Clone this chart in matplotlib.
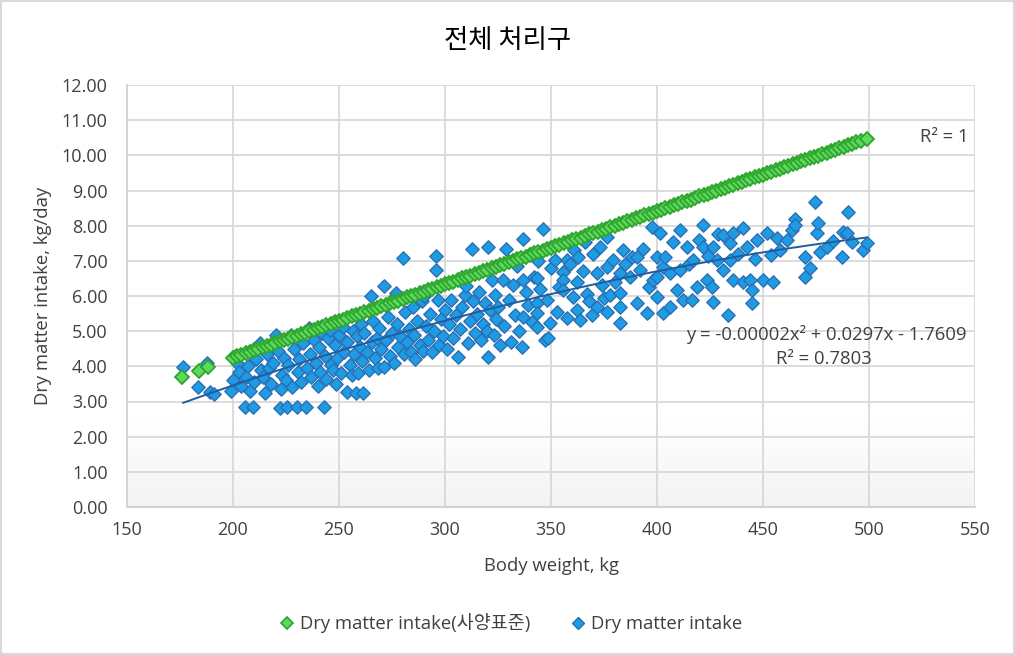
import numpy as np
import matplotlib
matplotlib.use("Agg")
import matplotlib.pyplot as plt
from matplotlib.colors import LinearSegmentedColormap
from matplotlib.lines import Line2D
from matplotlib.patches import Rectangle

plt.rcParams['font.family'] = ['Open Sans', 'Noto Sans CJK KR', 'DejaVu Sans']

#-------------- data --------------
title = '전체 처리구'
x_label = 'Body weight, kg'
y_label = 'Dry matter intake, kg/day'
std_name = 'Dry matter intake(사양표준)'
obs_name = 'Dry matter intake'
eq_text = 'y = -0.00002x² + 0.0297x - 1.7609'
r2_obs_text = 'R² = 0.7803'
r2_std_text = 'R² = 1'

# standard (feeding standard) intake
green_x = [176, 184, 188,
           200, 202, 204, 206, 208, 210, 212, 214, 216, 218, 220, 222, 224, 226, 228, 230,
           232, 234, 236, 238, 240, 242, 244, 246, 248, 250, 252, 254, 256, 258, 260, 262,
           264, 266, 268, 270, 272, 274, 276, 278, 280, 282, 284, 286, 288, 290, 292, 294,
           296, 298, 300, 302, 304, 306, 308, 310, 312, 314, 316, 318, 320, 322, 324, 326,
           328, 330, 332, 334, 336, 338, 340, 342, 344, 346, 348, 350, 352, 354, 356, 358,
           360, 362, 364, 366, 368, 370, 372, 374, 376, 378, 380, 382, 384, 386, 388, 390,
           392, 394, 396, 398, 400, 402, 404, 406, 408, 410, 412, 414, 416, 418, 420, 422,
           424, 426, 428, 430, 432, 434, 436, 438, 440, 442, 444, 446, 448, 450, 452, 454,
           456, 458, 460, 462, 464, 466, 468, 470, 472, 474, 476, 478, 480, 482, 484, 486,
           488, 490, 492, 494, 496, 499]
green_y = [3.70, 3.88, 3.97,
           4.25, 4.29, 4.33, 4.37, 4.42, 4.46, 4.50, 4.54, 4.58, 4.62, 4.67, 4.71, 4.75, 4.79, 4.83, 4.87,
           4.92, 4.96, 5.00, 5.04, 5.08, 5.12, 5.17, 5.21, 5.25, 5.29, 5.33, 5.37, 5.42, 5.46, 5.50, 5.54,
           5.58, 5.62, 5.67, 5.71, 5.75, 5.79, 5.83, 5.87, 5.92, 5.96, 6.00, 6.04, 6.08, 6.12, 6.17, 6.21,
           6.25, 6.29, 6.33, 6.37, 6.41, 6.46, 6.50, 6.54, 6.58, 6.62, 6.66, 6.71, 6.75, 6.79, 6.83, 6.87,
           6.91, 6.96, 7.00, 7.04, 7.08, 7.12, 7.16, 7.21, 7.25, 7.29, 7.33, 7.37, 7.41, 7.46, 7.50, 7.54,
           7.58, 7.62, 7.66, 7.71, 7.75, 7.79, 7.83, 7.87, 7.91, 7.96, 8.00, 8.04, 8.08, 8.12, 8.16, 8.21,
           8.25, 8.29, 8.33, 8.37, 8.41, 8.45, 8.49, 8.54, 8.58, 8.62, 8.66, 8.70, 8.74, 8.79, 8.83, 8.87,
           8.91, 8.95, 8.99, 9.04, 9.08, 9.12, 9.16, 9.20, 9.24, 9.29, 9.33, 9.37, 9.41, 9.45, 9.49, 9.54,
           9.58, 9.62, 9.66, 9.70, 9.74, 9.79, 9.83, 9.87, 9.91, 9.95, 9.99, 10.04, 10.08, 10.12, 10.16, 10.20,
           10.24, 10.29, 10.33, 10.37, 10.41, 10.47]

# observed intake
blue_x = [176.5, 183.5, 187.5, 189, 191, 199, 200, 201,
          202.5, 203, 204, 205.5, 206, 207, 208, 209.5, 210, 211, 212.5, 213, 214, 215, 216,
          217, 218, 219, 220.5, 221, 222, 222.5, 223, 224, 225, 225.5,
          226, 227.5, 228, 229, 230, 230.5, 231, 232, 233, 234.5, 235, 236, 236.5, 237, 238,
          239, 240, 240.5, 241, 242, 243, 243.5, 244, 245, 245.8, 246, 247, 248, 248.5, 249, 250,
          251, 252, 252.5, 253.6, 254, 255, 256, 256.5, 257, 258, 258.5, 259, 260, 260.5, 261,
          261.5, 262, 263, 264, 265, 265.5, 266, 267, 268, 268.5, 269, 270, 271, 271, 272, 273,
          274, 275,
          276, 277, 277.5, 278, 279, 280.3, 280.5, 281, 282, 283, 284, 285, 285.5, 286, 287,
          288, 289, 289.5, 290, 291, 292, 293, 294, 295, 295.8, 295.8, 296.8, 297, 298, 299, 300,
          301, 302, 303, 304, 305, 306.3, 307, 308, 309.4, 310.1, 311, 312, 312.6, 313, 314,
          315, 316, 317, 318, 318.9, 320, 320.4, 320.4, 321, 322, 323, 323.6, 324, 325,
          326, 327.5, 328, 329, 330, 331, 332, 333, 334, 335, 336.2, 336.6, 336.9, 336.9, 338,
          339, 340, 341, 342, 343.2, 343.2, 343.2, 343.2, 344, 345, 346.4, 347.2, 348, 349.5,
          350, 348.5,
          351.9, 352.7, 354, 355.8, 355.8, 355.8, 357.4, 357.4, 359, 360.5, 361, 362.1, 362.1,
          362.9, 363.7, 365, 366, 367, 368, 369.2, 370, 371.5, 371.5, 373.1, 374, 375,
          376.3, 376.3, 376.3, 377.8, 379.4, 380, 382.5, 382.5, 382.5, 382.5, 384, 385, 387.3,
          388, 390.4, 390.4, 392, 393.5, 395.1, 396, 397.5, 398.3, 399.8, 399.8, 399.8,
          401.4, 403, 403, 404, 406.1, 406.1, 407.7, 409.2, 410.8, 410.8, 412.4, 414, 415,
          416.3, 417.1, 418.7, 420, 421.8, 421.8, 423.4, 424, 425.8,
          426.6, 426.6, 428.2, 429, 431.3, 431.3, 433.6, 434.4, 434.4, 436, 436, 438, 440.7,
          440.7, 442.3, 443.9, 444.6, 444.6, 446, 447.1, 450,
          451.8, 454, 454.7, 456.5, 458, 461.2, 463.5, 465, 465, 469.8, 469.8, 472.2, 474.5,
          475.3, 476.1, 477, 480, 483, 487.1, 487.9, 489.5, 490.2, 491.8, 497.3, 498.9]
blue_y = [3.97, 3.40, 4.10, 3.27, 3.22, 3.30, 3.61, 4.30,
          4.08, 3.85, 3.45, 2.85, 3.70, 4.00, 3.30, 2.85, 3.55, 4.20, 4.67, 3.90, 3.70, 3.25, 4.35,
          3.95, 3.50, 4.10, 4.89, 4.45, 2.81, 3.35, 3.75, 4.25, 3.60, 2.85,
          4.05, 4.89, 3.40, 4.50, 2.85, 3.85, 4.20, 3.55, 4.65, 2.85, 3.95, 5.09, 4.35, 3.70, 4.75,
          4.10, 3.45, 4.55, 3.85, 4.95, 2.85, 4.30, 3.65, 4.80, 5.03, 4.05, 3.90, 4.60, 3.50, 4.25, 4.90,
          3.80, 5.12, 4.40, 3.28, 4.70, 4.05, 3.75, 5.00, 4.35, 3.25, 4.85, 3.80, 4.55, 5.20, 4.15,
          3.23, 4.95, 4.40, 3.90, 6.00, 4.70, 5.30, 4.25, 4.80, 3.95, 5.10, 4.50, 6.28, 3.99, 4.75, 5.40,
          4.30, 4.95,
          4.10, 6.09, 5.20, 4.55, 4.85, 7.09, 4.35, 5.55, 4.70, 5.05, 4.40, 5.70, 4.90, 4.20, 5.30,
          4.60, 5.85, 4.45, 6.00, 5.15, 4.75, 5.50, 4.40, 5.00, 7.14, 6.74, 5.89, 4.60, 5.35, 4.85, 5.60,
          4.50, 5.20, 5.90, 4.80, 5.45, 4.27, 5.05, 5.70, 6.03, 6.28, 4.65, 5.30, 7.33, 5.85, 4.95,
          5.50, 6.10, 4.75, 5.20, 5.79, 5.00, 7.40, 4.27, 5.60, 6.45, 4.90, 6.03, 5.35, 5.70,
          4.60, 6.45, 5.15, 7.33, 5.90, 4.70, 6.30, 5.45, 6.85, 5.00, 4.56, 7.61, 6.45, 5.41, 6.10,
          5.75, 7.20, 5.25, 6.55, 6.50, 5.79, 5.13, 5.51, 7.00, 6.20, 7.90, 4.75, 5.89, 5.22,
          6.80, 4.80,
          7.02, 5.55, 6.25, 6.69, 6.45, 6.17, 7.02, 5.37, 6.90, 5.98, 7.30, 6.41, 5.60,
          7.12, 5.32, 6.70, 7.54, 6.05, 5.85, 5.46, 7.20, 6.64, 5.70, 7.40, 6.30, 5.95,
          7.69, 6.83, 5.55, 6.03, 7.02, 6.40, 6.64, 6.08, 5.70, 5.22, 7.30, 6.90, 6.55,
          7.10, 7.12, 5.79, 6.74, 7.35, 5.51, 6.25, 7.97, 6.45, 7.12, 6.55, 5.98,
          7.78, 6.83, 5.51, 7.10, 6.64, 5.70, 7.54, 6.17, 7.88, 6.74, 5.89, 7.40, 6.90,
          5.89, 7.02, 6.26, 7.60, 8.02, 7.40, 6.45, 7.15, 6.26,
          7.40, 5.84, 7.02, 7.75, 7.73, 6.74, 5.46, 7.50, 7.02, 7.78, 6.45, 7.20, 7.92,
          6.41, 7.40, 6.45, 6.17, 5.79, 7.05, 7.59, 6.45,
          7.78, 7.17, 6.41, 7.64, 7.30, 7.59, 7.88, 8.18, 8.02, 7.12, 6.55, 6.79, 8.68,
          7.78, 8.08, 7.26, 7.40, 7.55, 7.12, 7.83, 7.78, 8.38, 7.54, 7.31, 7.50]

x_ticks = [150, 200, 250, 300, 350, 400, 450, 500, 550]
y_ticks = [0, 1, 2, 3, 4, 5, 6, 7, 8, 9, 10, 11, 12]

TXT = '#404040'
W, H = 1015, 655
G_FACE, G_EDGE = '#5fd85f', '#2ea62e'
B_FACE, B_EDGE = '#1e9be3', '#2a6fb3'

#-------------- figure --------------
fig = plt.figure(figsize=(W / 100, H / 100), dpi=100)
ax = fig.add_axes([127 / W, 1 - 507 / H, 848 / W, 422 / H])

# faint grey fade at the bottom of the plot area
fade = LinearSegmentedColormap.from_list('fade', ['#f3f3f3', '#ffffff'])
ax.imshow(np.linspace(0, 1, 100).reshape(-1, 1), cmap=fade, origin='lower',
          extent=[150, 550, 0, 2.5], aspect='auto', zorder=0)

ax.set_xlim(150, 550)
ax.set_ylim(0, 12)
ax.set_xticks(x_ticks)
ax.set_yticks(y_ticks)
ax.set_yticklabels(['%.2f' % v for v in y_ticks])
ax.grid(True, color='#d9d9d9', linewidth=1.3, zorder=1)
ax.set_axisbelow(True)
for side in ['top', 'right']:
    ax.spines[side].set_visible(False)
for side in ['left', 'bottom']:
    ax.spines[side].set_color('#d0d0d0')
    ax.spines[side].set_linewidth(1.3)
ax.tick_params(length=0, labelsize=13, colors=TXT)
ax.tick_params(axis='y', pad=14)
ax.tick_params(axis='x', pad=10)

# observed + trend line
ax.scatter(blue_x, blue_y, marker='D', s=46, facecolor=B_FACE,
           edgecolor=B_EDGE, linewidth=1.0, zorder=3)
coef = np.polyfit(blue_x, blue_y, 2)
tx = np.linspace(min(blue_x), max(blue_x), 200)
ax.plot(tx, np.polyval(coef, tx), color='#1f5d9e', linewidth=1.4, zorder=4)

# standard
ax.plot(green_x, green_y, linestyle='none', marker='D', markersize=7,
        markerfacecolor=G_FACE, markeredgecolor=G_EDGE, markeredgewidth=1.3, zorder=5)

# labels placed at reference pixel positions
fig.text(826 / W, 1 - 335 / H, eq_text, ha='center', va='center', fontsize=13.3, color=TXT)
fig.text(824 / W, 1 - 359 / H, r2_obs_text, ha='center', va='center', fontsize=13.3, color=TXT)
fig.text(944 / W, 1 - 137 / H, r2_std_text, ha='center', va='center', fontsize=13.3, color=TXT)

fig.text(0.5, 1 - 40 / H, title, ha='center', va='center', fontsize=19,
         family=['Noto Sans CJK KR'], color='#000000')
fig.text(551 / W, 1 - 566 / H, x_label, ha='center', va='center', fontsize=13.3, color=TXT)
fig.text(43 / W, 1 - 296 / H, y_label, ha='center', va='center', rotation=90,
         fontsize=13.3, color=TXT)

handles = [Line2D([], [], linestyle='none', marker='D', markersize=6.5,
                  markerfacecolor=G_FACE, markeredgecolor=G_EDGE, markeredgewidth=1.2),
           Line2D([], [], linestyle='none', marker='D', markersize=6.5,
                  markerfacecolor=B_FACE, markeredgecolor=B_EDGE, markeredgewidth=1.0)]
fig.legend(handles, [std_name, obs_name], loc='center', bbox_to_anchor=(511 / W, 1 - 623 / H),
           ncol=2, frameon=False, fontsize=13.3, handlelength=0.8, handletextpad=0.3,
           columnspacing=2.2, labelcolor=TXT)

fig.patches.append(Rectangle((0.001, 0.001), 0.998, 0.997, transform=fig.transFigure,
                             fill=False, edgecolor='#d9d9d9', linewidth=1.5))

fig.savefig('out.png', dpi=100)
